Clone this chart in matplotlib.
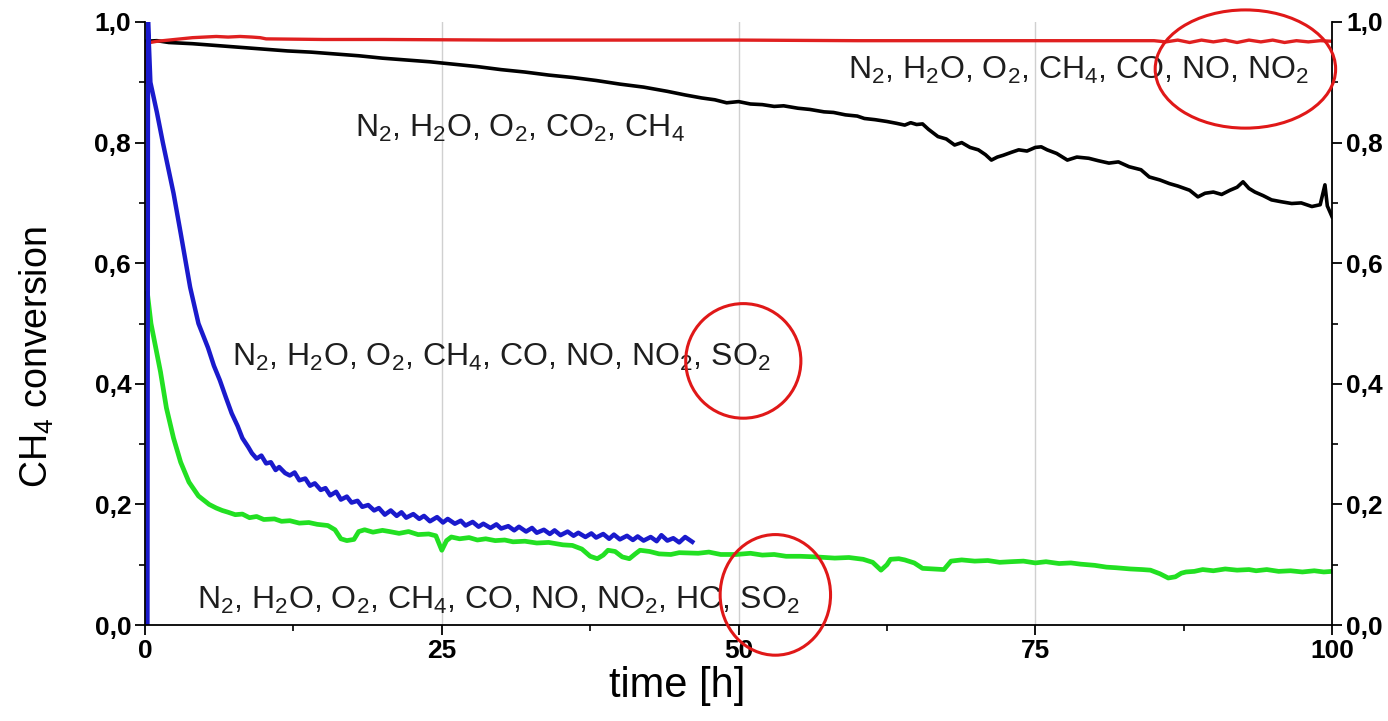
import matplotlib
matplotlib.use("Agg")
import matplotlib.pyplot as plt
from matplotlib.patches import Ellipse
from matplotlib.ticker import FuncFormatter, MultipleLocator

plt.rcParams['font.family'] = ['Liberation Sans', 'DejaVu Sans']
plt.rcParams['mathtext.default'] = 'regular'

# CH4 conversion vs. time, one series per gas mixture
red_t = [0, 0.15, 1, 2, 3, 4, 5, 6, 7, 8, 9, 9.7, 10.2, 15, 20, 30, 40, 50, 60, 70, 80, 85,
         86, 87, 88, 89, 90, 91, 92, 93, 94, 95, 96, 97, 98, 99, 100]
red_y = [0.90, 0.965, 0.968, 0.970, 0.972, 0.974, 0.975, 0.976, 0.975, 0.976, 0.975, 0.974, 0.972,
         0.971, 0.971, 0.970, 0.970, 0.970, 0.969, 0.969, 0.969, 0.969,
         0.967, 0.970, 0.966, 0.970, 0.967, 0.970, 0.966, 0.970, 0.967, 0.970, 0.966, 0.969, 0.967, 0.969, 0.968]

black_t = [0, 1, 2, 4, 6, 8, 10, 12, 14, 16, 18, 20, 22, 24, 26, 28, 30, 32, 34, 36, 38, 40, 42, 44,
           45.5, 46.9, 48, 49, 50, 51, 52, 53, 53.8, 55, 56, 57.2, 58, 59, 60, 60.6, 61.5, 62.5, 63.3,
           64, 64.5, 65, 65.5, 66, 66.8, 67.5, 68.2, 68.8, 69.5, 70.2, 70.8, 71.3, 71.8, 72.3, 73,
           73.6, 74.3, 75, 75.5, 76, 76.8, 77.7, 78.5, 79.5, 80.3, 81.2, 82, 82.9, 83.9, 84.6, 85.5,
           86.3, 87, 88, 88.7, 89.3, 90, 90.7, 91.4, 92, 92.5, 93, 93.5, 94.2, 94.9, 95.7, 96.6,
           97.4, 98.3, 99.0, 99.4, 99.6, 100]
black_y = [0.968, 0.969, 0.966, 0.964, 0.961, 0.958, 0.955, 0.952, 0.950, 0.947, 0.944, 0.940, 0.937,
           0.934, 0.930, 0.926, 0.921, 0.917, 0.912, 0.908, 0.903, 0.897, 0.892, 0.885,
           0.879, 0.874, 0.871, 0.866, 0.868, 0.864, 0.863, 0.860, 0.861, 0.857, 0.855, 0.851, 0.850,
           0.846, 0.844, 0.840, 0.838, 0.835, 0.832,
           0.829, 0.833, 0.830, 0.831, 0.822, 0.810, 0.806, 0.796, 0.800, 0.792, 0.788, 0.780, 0.771,
           0.776, 0.779, 0.784,
           0.788, 0.786, 0.792, 0.793, 0.788, 0.782, 0.771, 0.776, 0.774, 0.770, 0.766, 0.768, 0.760,
           0.755, 0.743, 0.738,
           0.732, 0.728, 0.721, 0.710, 0.716, 0.718, 0.714, 0.721, 0.726, 0.735, 0.724, 0.718, 0.712,
           0.705, 0.702, 0.699,
           0.700, 0.694, 0.697, 0.730, 0.695, 0.677]

blue_t = [0.2, 0.25, 0.45, 1.0, 1.5, 2.4, 3.0, 3.8, 4.5, 5.3, 5.8, 6.3, 6.8, 7.3, 7.8, 8.2, 8.7,
          9.0, 9.4, 9.8, 10.2, 10.6, 11.0, 11.3, 11.8, 12.2, 12.6, 13.0, 13.5, 13.9, 14.3, 14.8,
          15.2, 15.6, 16.1, 16.5, 17.0, 17.4, 17.9, 18.3, 18.8, 19.3, 19.7, 20.2, 20.7, 21.2, 21.6,
          22.0, 22.6, 23.1, 23.5, 24.0, 24.6, 25.1, 25.5, 26.1, 26.6, 27.0, 27.6, 28.1, 28.5, 29.1,
          29.6, 30.0, 30.6, 31.1, 31.5, 32.1, 32.6, 33.0, 33.6, 34.1, 34.5, 35.0, 35.6, 36.1, 36.5,
          37.1, 37.6, 38.0, 38.6, 39.1, 39.5, 40.0, 40.6, 41.1, 41.5, 42.0, 42.6, 43.1, 43.5, 44.0,
          44.5, 45.0, 45.5, 46.1]
blue_y = [0.0, 1.0, 0.90, 0.85, 0.80, 0.716, 0.65, 0.56, 0.50, 0.46, 0.43, 0.406, 0.378, 0.351,
          0.330, 0.310, 0.295,
          0.285, 0.276, 0.281, 0.268, 0.270, 0.257, 0.262, 0.252, 0.248, 0.253, 0.240, 0.243, 0.231,
          0.235, 0.224,
          0.227, 0.215, 0.221, 0.208, 0.213, 0.203, 0.206, 0.196, 0.199, 0.190, 0.194, 0.183, 0.190,
          0.181, 0.187,
          0.178, 0.184, 0.176, 0.181, 0.172, 0.179, 0.170, 0.176, 0.168, 0.173, 0.165, 0.171, 0.163,
          0.168, 0.161,
          0.167, 0.160, 0.164, 0.157, 0.163, 0.155, 0.161, 0.153, 0.158, 0.151, 0.157, 0.149, 0.155,
          0.148, 0.153,
          0.146, 0.152, 0.145, 0.151, 0.143, 0.150, 0.142, 0.148, 0.141, 0.147, 0.140, 0.146, 0.139,
          0.149, 0.140,
          0.144, 0.137, 0.146, 0.138]

green_t = [0.2, 0.5, 1.0, 1.3, 1.8, 2.4, 3.0, 3.7, 4.5, 5.4, 6.0, 6.5, 7.0, 7.6, 8.2, 8.8, 9.4,
           10.0, 10.9, 11.5, 12.2, 13.0, 13.8, 14.5, 15.4, 16.0, 16.5, 17.0, 17.6, 18.0, 18.5, 19.2,
           20.0, 20.6, 21.4, 22.2, 23.0, 23.9, 24.5, 25.0, 25.4, 25.8, 26.5, 27.3, 28.0, 28.7, 29.5,
           30.3, 31.0, 32.0, 33.0, 34.0, 35.2, 36.0, 36.8, 37.5, 38.1, 38.6, 39.0, 39.6, 40.2, 40.8,
           41.3, 41.7, 42.5, 43.3, 44.3, 45.0, 46.6, 47.5, 48.5, 49.8, 51.0, 52.0, 53.0, 54.0, 55.2,
           56.5, 58.1, 59.3, 60.5, 61.3, 62.0, 62.5, 62.8, 63.5, 64.0, 64.8, 65.5, 66.4, 67.3, 67.9,
           68.8, 69.9, 71.0, 72.0, 72.9, 74.0, 75.0, 75.9, 77.0, 78.0, 78.8, 80.0, 81.0, 81.8, 83.0,
           84.0, 84.7, 85.5, 86.2, 86.8, 87.3, 87.7, 88.4, 89.1, 90.0, 91.0, 92.0, 93.0, 93.6, 94.5,
           95.5, 96.5, 97.5, 98.5, 99.3, 100]
green_y = [0.55, 0.50, 0.45, 0.42, 0.36, 0.31, 0.27, 0.237, 0.214, 0.200, 0.194, 0.190, 0.187, 0.183,
           0.184, 0.178, 0.180,
           0.175, 0.176, 0.172, 0.173, 0.169, 0.170, 0.167, 0.165, 0.158, 0.143, 0.140, 0.142, 0.155,
           0.158, 0.154,
           0.157, 0.155, 0.152, 0.155, 0.150, 0.151, 0.148, 0.124, 0.140, 0.146, 0.143, 0.145, 0.141,
           0.143, 0.140,
           0.141, 0.138, 0.139, 0.136, 0.137, 0.133, 0.132, 0.126, 0.114, 0.110, 0.116, 0.124, 0.122,
           0.113, 0.110,
           0.118, 0.124, 0.122, 0.118, 0.117, 0.120, 0.119, 0.121, 0.117, 0.117, 0.119, 0.116, 0.117,
           0.114, 0.114,
           0.113, 0.111, 0.112, 0.109, 0.104, 0.091, 0.100, 0.109, 0.110, 0.108, 0.103, 0.094, 0.093,
           0.092, 0.106,
           0.108, 0.106, 0.107, 0.104, 0.105, 0.106, 0.103, 0.105, 0.102, 0.103, 0.101, 0.099, 0.096,
           0.095, 0.093,
           0.092, 0.091, 0.085, 0.078, 0.080, 0.086, 0.088, 0.089, 0.092, 0.090, 0.093, 0.091, 0.092,
           0.090, 0.092,
           0.089, 0.090, 0.088, 0.090, 0.088, 0.089]

fig = plt.figure(figsize=(13.88, 7.21), dpi=100)
ax = fig.add_axes([0.1045, 0.1331, 0.8552, 0.8364])

for x in [25, 50, 75]:
    ax.axvline(x, color='#d0d0d0', lw=1, zorder=0)

ax.plot(black_t, black_y, color='black', lw=2.6)
ax.plot(green_t, green_y, color='#22e022', lw=3.4)
ax.plot(red_t, red_y, color='#e02020', lw=2.4)
ax.plot(blue_t, blue_y, color='#1a1acc', lw=3.2)

ax.set_xlim(0, 100)
ax.set_ylim(0, 1.0)
ax.spines['top'].set_visible(False)
for s in ['left', 'right', 'bottom']:
    ax.spines[s].set_linewidth(1.3)

ax.xaxis.set_major_locator(MultipleLocator(25))
ax.xaxis.set_minor_locator(MultipleLocator(12.5))
ax.yaxis.set_major_locator(MultipleLocator(0.2))
ax.yaxis.set_minor_locator(MultipleLocator(0.1))
ax.yaxis.set_major_formatter(FuncFormatter(lambda v, p: f"{v:.1f}".replace('.', ',')))
ax.tick_params(which='both', direction='out', right=True, labelright=True, top=False)
ax.tick_params(which='major', length=7, width=1.3, labelsize=19, pad=3)
ax.tick_params(which='minor', length=4, width=1.2)
for lab in ax.get_xticklabels() + ax.get_yticklabels():
    lab.set_fontweight('bold')

ax.set_xlabel('time [h]', fontsize=30)
ax.set_ylabel('CH$_4$ conversion', fontsize=27)
ax.xaxis.set_label_coords(0.448, -0.068)
ax.yaxis.set_label_coords(-0.075, 0.444)

txt = dict(fontsize=23, color='#1e1e1e', va='center', ha='left')
ax.text(17.7, 0.824, 'N$_2$, H$_2$O, O$_2$, CO$_2$, CH$_4$', **txt)
ax.text(59.2, 0.920, 'N$_2$, H$_2$O, O$_2$, CH$_4$, CO, NO, NO$_2$', **txt)
ax.text(7.3, 0.444, 'N$_2$, H$_2$O, O$_2$, CH$_4$, CO, NO, NO$_2$, SO$_2$', **txt)
ax.text(4.4, 0.041, 'N$_2$, H$_2$O, O$_2$, CH$_4$, CO, NO, NO$_2$, HC, SO$_2$', **txt)

for cx, cy, w, h in [(92.7, 0.922, 15.2, 0.196), (50.4, 0.438, 9.7, 0.19), (53.1, 0.05, 9.3, 0.2)]:
    ax.add_patch(Ellipse((cx, cy), w, h, fill=False, edgecolor='#e01818', lw=2.2, clip_on=False, zorder=5))

fig.savefig('out.png', dpi=100)
